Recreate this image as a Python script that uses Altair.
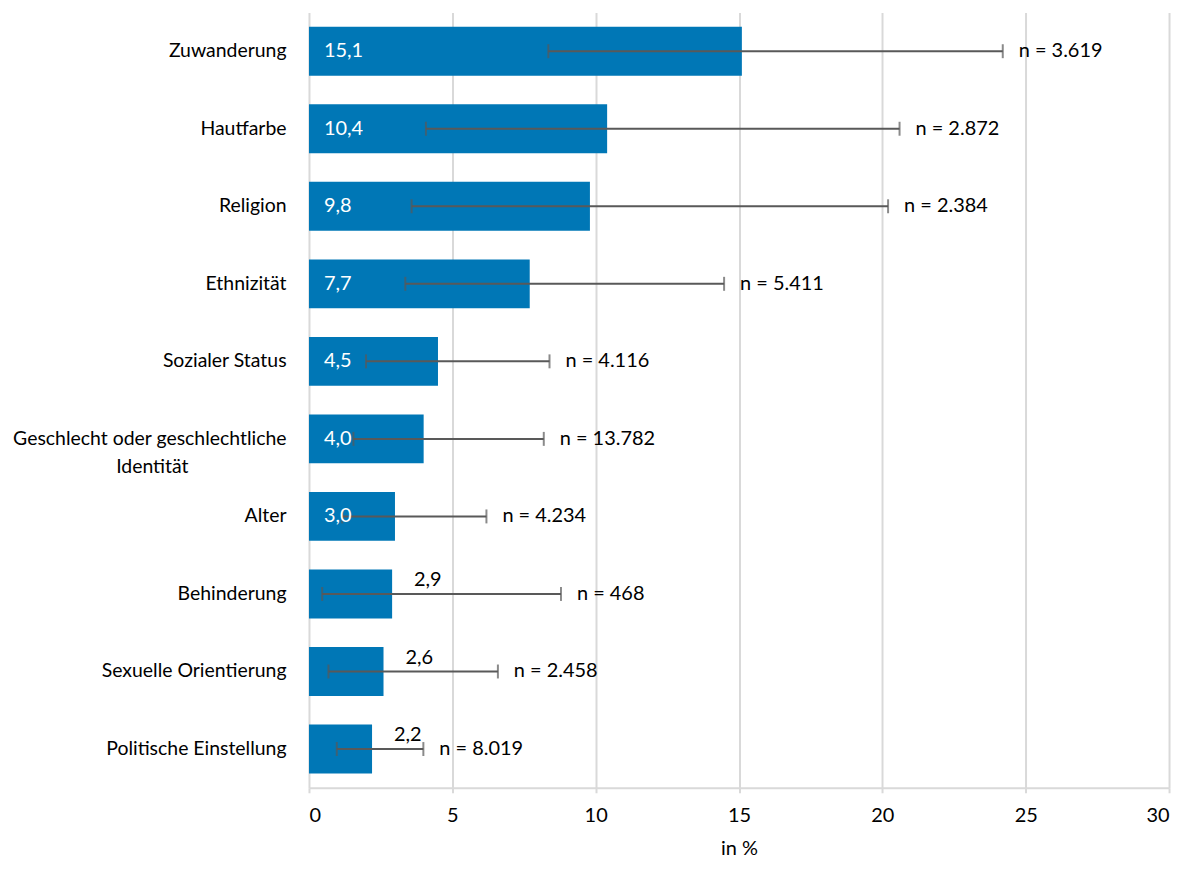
import altair as alt
import pandas as pd

categories = ["Zuwanderung", "Hautfarbe", "Religion", "Ethnizität", "Sozialer Status",
              "Geschlecht oder geschlechtliche Identität", "Alter", "Behinderung",
              "Sexuelle Orientierung", "Politische Einstellung"]
values = [15.1, 10.4, 9.8, 7.7, 4.5, 4.0, 3.0, 2.9, 2.6, 2.2]
ci_low = [8.35, 4.08, 3.58, 3.36, 1.99, 1.55, 1.16, 0.46, 0.68, 0.97]
ci_high = [24.2, 20.6, 20.2, 14.48, 8.39, 8.19, 6.19, 8.79, 6.59, 3.99]
n_obs = [3619, 2872, 2384, 5411, 4116, 13782, 4234, 468, 2458, 8019]

FONT = "Lato"
FS = 20
BLUE = "#0077b6"
GREY = "#595959"

df = pd.DataFrame({
    "cat": categories,
    "value": values,
    "low": ci_low,
    "high": ci_high,
    "label": [f"{v:.1f}".replace(".", ",") for v in values],
    "nlabel": ["n = " + f"{n:,}".replace(",", ".") for n in n_obs],
    "inside": [v >= 3.0 for v in values],
})

pad = "\u2800" * 7
y_enc = alt.Y("cat:N", sort=categories, title=None,
              scale=alt.Scale(paddingInner=0.37),
              axis=alt.Axis(domain=False, ticks=False, grid=False, labelPadding=23,
                            labelFont=FONT, labelFontSize=19.5, labelColor="#000000",
                            labelLimit=400, labelLineHeight=28,
                            labelExpr="datum.value == 'Geschlecht oder geschlechtliche Identität' ? ['Geschlecht oder geschlechtliche', 'Identität" + pad + "'] : datum.value"))

x_scale = alt.Scale(domain=[0, 30], nice=False)

base = alt.Chart(df)

bars = base.mark_bar(color=BLUE).encode(
    x=alt.X("value:Q", scale=x_scale, title="in %",
            axis=alt.Axis(values=[0, 5, 10, 15, 20, 25, 30], grid=True, gridColor="#d9d9d9",
                          gridWidth=2, domainColor="#d9d9d9", domainWidth=2,
                          tickColor="#d9d9d9", tickWidth=2, tickSize=5,
                          labelFont=FONT, labelFontSize=FS, labelColor="#000000",
                          labelPadding=13, titleFont=FONT, titleFontSize=FS,
                          titleFontWeight="normal", titleColor="#000000", titlePadding=13)),
    y=y_enc,
)

rule = base.mark_rule(color=GREY, strokeWidth=2).encode(
    x="low:Q", x2="high:Q", y=alt.Y("cat:N", sort=categories))
cap_lo = base.mark_tick(color=GREY, orient="vertical", size=14, thickness=2).encode(
    x="low:Q", y=alt.Y("cat:N", sort=categories))
cap_hi = base.mark_tick(color=GREY, orient="vertical", size=14, thickness=2).encode(
    x="high:Q", y=alt.Y("cat:N", sort=categories))

txt_in = base.transform_filter("datum.inside").mark_text(
    align="left", baseline="middle", dx=15, font=FONT, fontSize=FS, color="white"
).encode(x=alt.datum(0), y=alt.Y("cat:N", sort=categories), text="label:N")

txt_out = base.transform_filter("!datum.inside").mark_text(
    align="left", baseline="middle", dx=22, dy=-14, font=FONT, fontSize=FS, color="black"
).encode(x="value:Q", y=alt.Y("cat:N", sort=categories), text="label:N")

txt_n = base.mark_text(
    align="left", baseline="middle", dx=16, font=FONT, fontSize=FS, color="black"
).encode(x="high:Q", y=alt.Y("cat:N", sort=categories), text="nlabel:N")

chart = alt.layer(bars, rule, cap_lo, cap_hi, txt_in, txt_out, txt_n).properties(
    width=863, height=778, autosize="none",
    padding={"left": 302, "top": 3, "right": 12, "bottom": 72},
).configure_view(stroke=None)

chart.save("out.html", embed_options={"renderer": "svg", "actions": False})
